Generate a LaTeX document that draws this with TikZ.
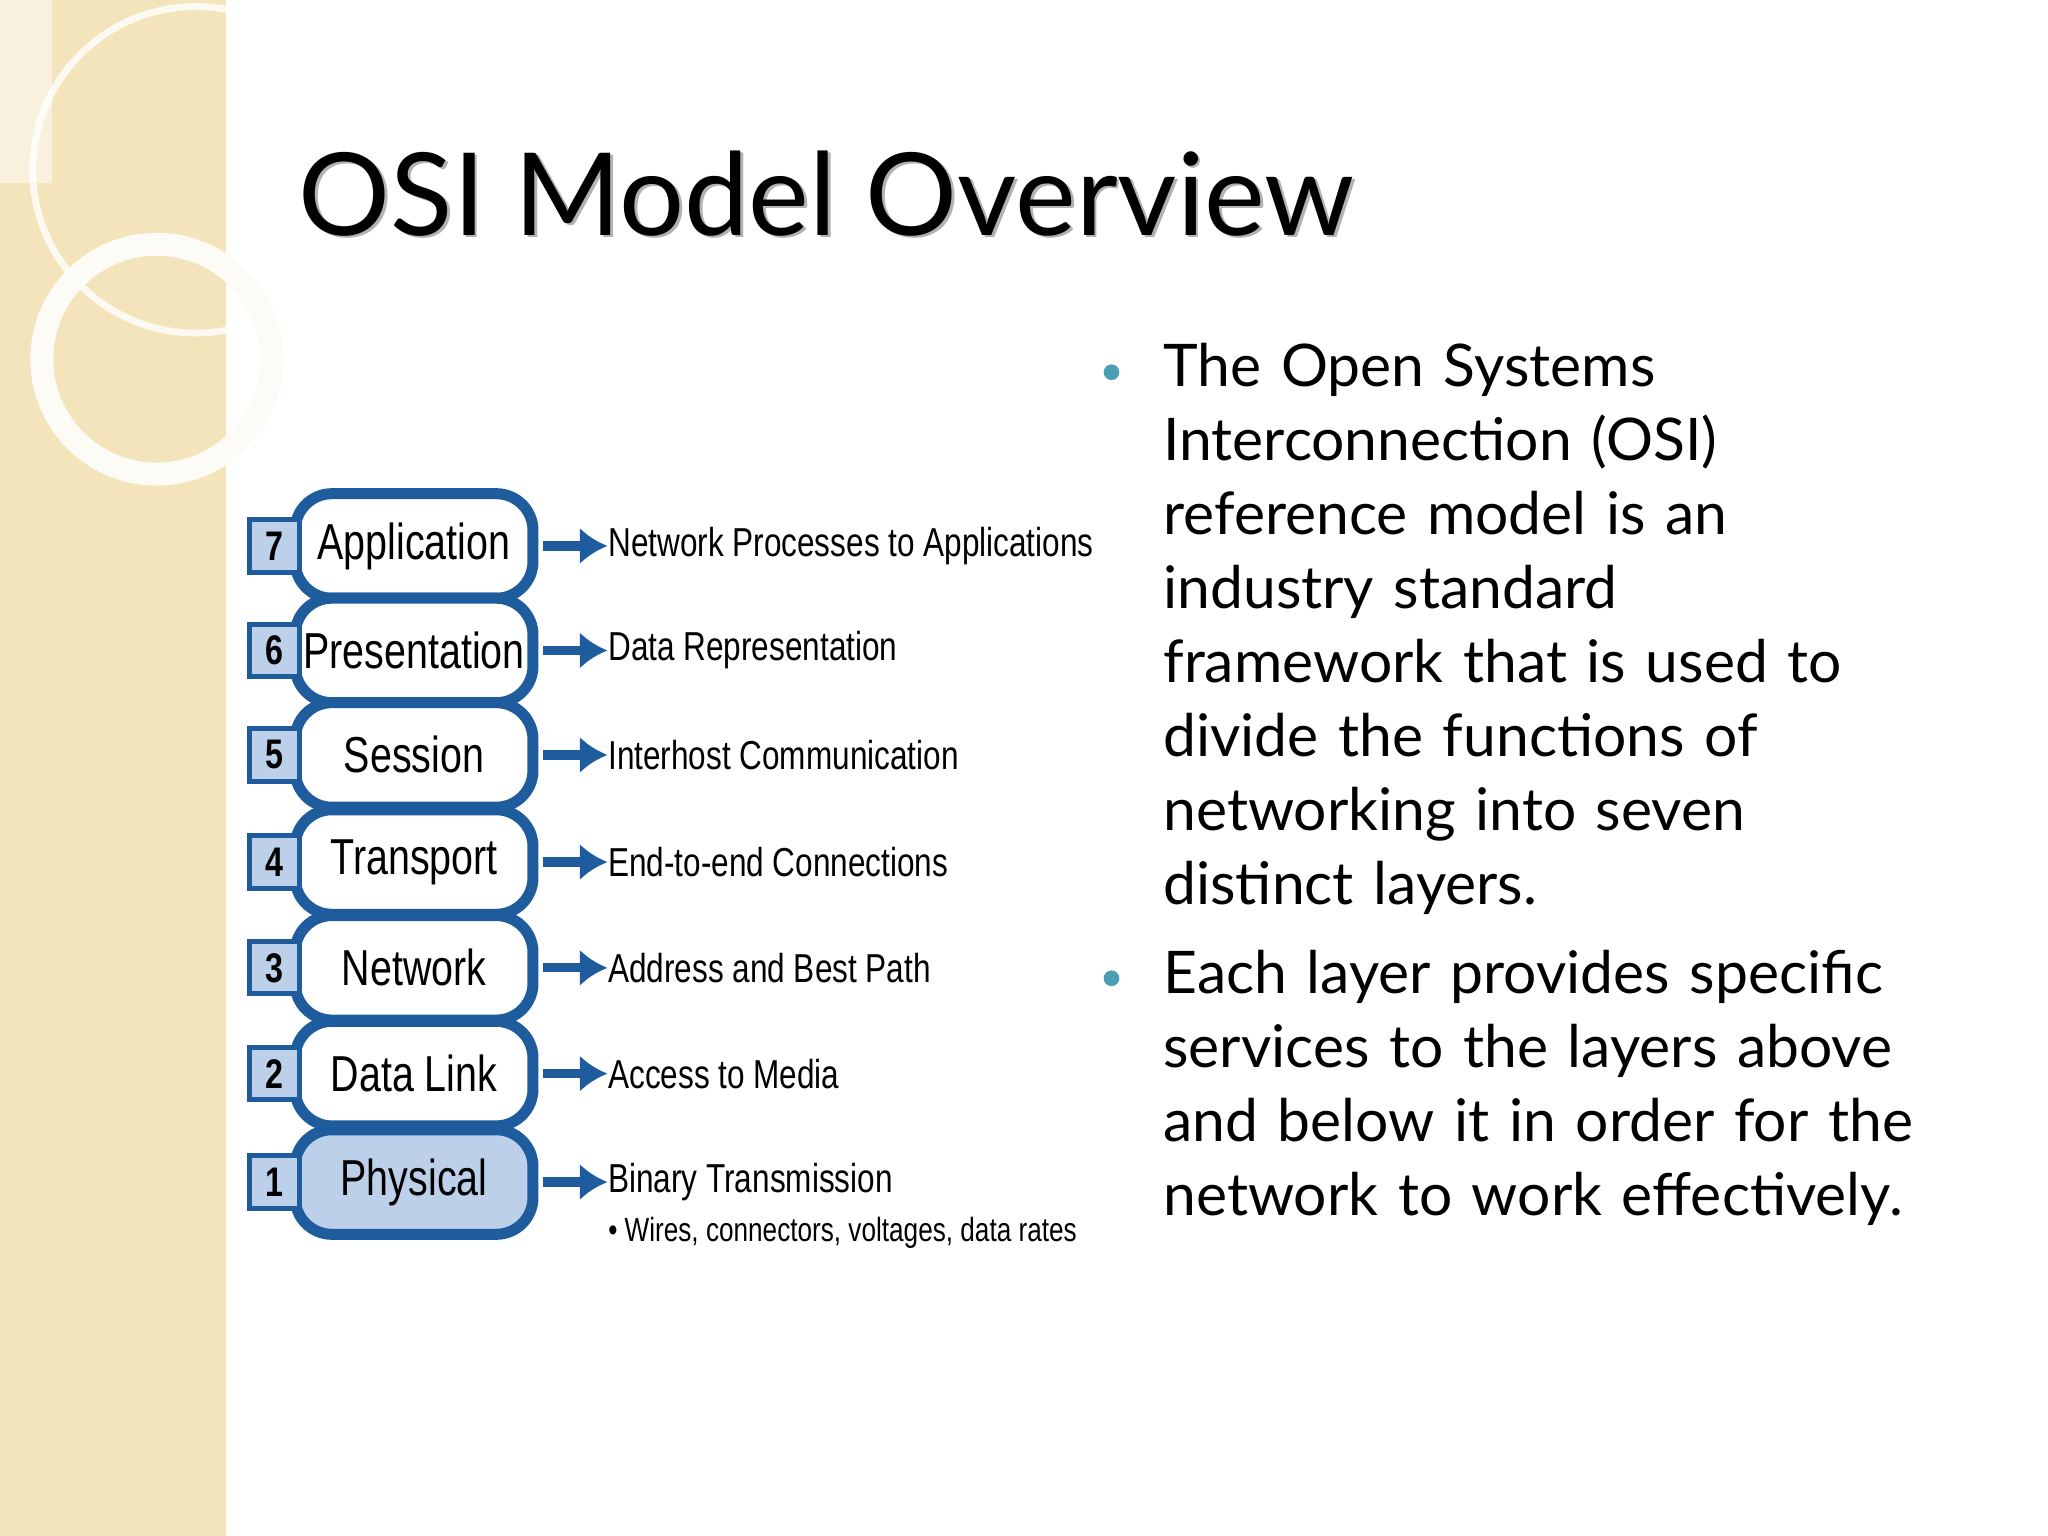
\documentclass[tikz,border=0pt]{standalone}
\usepackage{fontspec}
\setmainfont{Lato}
\newfontfamily\narrowfont{Liberation Sans}[FakeStretch=0.78]
\usetikzlibrary{arrows.meta}
\definecolor{layerblue}{HTML}{1F5C9E}
\definecolor{numfill}{HTML}{BCD0EA}
\definecolor{beige}{HTML}{F3E4BC}
\definecolor{bullet}{HTML}{4A9FB5}
\tikzset{
  layer/.style={draw=layerblue, line width=2.4pt, rounded corners=8pt, fill=white,
    minimum width=1.82cm, minimum height=0.80cm, inner sep=0pt, font=\narrowfont\fontsize{11}{11}\selectfont},
  num/.style={draw=layerblue, line width=1.1pt, fill=numfill, minimum width=0.38cm,
    minimum height=0.40cm, inner sep=0pt, font=\narrowfont\bfseries\fontsize{9}{9}\selectfont},
  desc/.style={anchor=west, inner sep=0pt, font=\narrowfont\fontsize{8.8}{8.8}\selectfont},
  flow/.style={-{Latex[length=6pt,width=8pt]}, draw=layerblue, line width=2pt},
  body/.style={anchor=north west, align=left, inner sep=0pt, text width=6.4cm,
    font=\fontsize{12.8}{16.1}\selectfont}
}
\begin{document}
\begin{tikzpicture}[x=0.01cm,y=-0.01cm]
\useasboundingbox (0,0) rectangle (1568,1176);

% background and side strip
\fill[white] (0,0) rectangle (1568,1176);
\fill[beige] (0,0) rectangle (173,1176);
\draw[white, line width=1.5pt, opacity=0.8] (150,130) circle (125);
\draw[white!85!beige, line width=5pt] (120,275) circle (88);
\fill[white, opacity=0.5] (0,0) rectangle (40,140);

% title
\node[anchor=base west, inner sep=0pt, gray!60, font=\fontsize{25}{25}\selectfont] at (230,182) {OSI Model Overview};
\node[anchor=base west, inner sep=0pt, font=\fontsize{25}{25}\selectfont] (title) at (228,180) {OSI Model Overview};

% layer stack
\foreach \n/\lbl/\txt/\yy in {7/Application/Network Processes to Applications/418,
    6/Presentation/Data Representation/498,
    5/Session/Interhost Communication/578,
    4/Transport/End-to-end Connections/660,
    3/Network/Address and Best Path/741,
    2/Data Link/Access to Media/822,
    1/Physical/Binary Transmission/905}{
  \ifnum\n=1
    \node[layer, fill=numfill] (L\n) at (317,\yy) {\lbl};
  \else
    \node[layer] (L\n) at (317,\yy) {\lbl};
  \fi
  \node[num] (N\n) at (210,\yy) {\n};
  \node[desc] (D\n) at (465,\yy) {\txt};
  \coordinate (s\n) at (416,\yy);
  \draw[flow] (s\n) -- (D\n.west);
}
\node[desc, font=\narrowfont\fontsize{7.3}{7.3}\selectfont] (W) at (465,944) {\textbullet\ Wires, connectors, voltages, data rates};

% bullet text
\fill[bullet] (851,285) circle (6);
\node[body] (B1) at (890,262) {The Open Systems\\ Interconnection (OSI)\\ reference model is an\\ industry standard\\ framework that is used to\\ divide the functions of\\ networking into seven\\ distinct layers.};
\fill[bullet] (851,749) circle (6);
\node[body] (B2) at (890,727) {Each layer provides specific\\ services to the layers above\\ and below it in order for the\\ network to work effectively.};
\end{tikzpicture}
\end{document}
